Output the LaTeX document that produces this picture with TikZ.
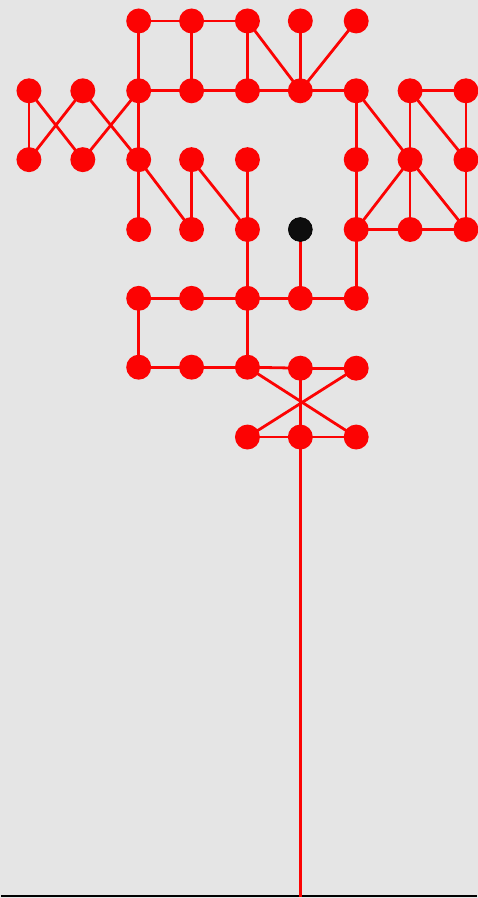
\documentclass[tikz,border=0pt]{standalone}
\pgfdeclarelayer{bg}
\pgfdeclarelayer{edges}
\pgfsetlayers{bg,edges,main}
\definecolor{bgc}{HTML}{E5E5E5}
\definecolor{nodered}{HTML}{FC0303}
\definecolor{nodeblack}{HTML}{0D0D0D}
\begin{document}
\begin{tikzpicture}[x=1pt,y=-1pt,
  dot/.style={circle,fill=nodered,inner sep=0pt,minimum size=25pt},
  blackdot/.style={circle,fill=nodeblack,draw=black,line width=0.6pt,inner sep=0pt,minimum size=24pt},
  edge/.style={draw=nodered,line width=2.8pt}]
\begin{pgfonlayer}{bg}
\fill[bgc] (-1,-1) rectangle (478,899);
\draw[black,line width=2pt] (0,897) -- (477,897);
\end{pgfonlayer}
\useasboundingbox (0,0) rectangle (477,898);
% row 1
\node[dot] (C1) at (138,20) {};
\node[dot] (D1) at (191,20) {};
\node[dot] (E1) at (247,20) {};
\node[dot] (F1) at (300,20) {};
\node[dot] (G1) at (356,20) {};
% row 2
\node[dot] (A2) at (28,90) {};
\node[dot] (B2) at (82,90) {};
\node[dot] (C2) at (138,90) {};
\node[dot] (D2) at (191,90) {};
\node[dot] (E2) at (247,90) {};
\node[dot] (F2) at (300,90) {};
\node[dot] (G2) at (356,90) {};
\node[dot] (H2) at (410,90) {};
\node[dot] (I2) at (466,90) {};
% row 3
\node[dot] (A3) at (28,159) {};
\node[dot] (B3) at (82,159) {};
\node[dot] (C3) at (138,159) {};
\node[dot] (D3) at (191,159) {};
\node[dot] (E3) at (247,159) {};
\node[dot] (G3) at (356,159) {};
\node[dot] (H3) at (410,159) {};
\node[dot] (I3) at (466,159) {};
% row 4
\node[dot] (C4) at (138,229) {};
\node[dot] (D4) at (191,229) {};
\node[dot] (E4) at (247,229) {};
\node[blackdot] (F4) at (300,229) {};
\node[dot] (G4) at (356,229) {};
\node[dot] (H4) at (410,229) {};
\node[dot] (I4) at (466,229) {};
% row 5
\node[dot] (C5) at (138,298) {};
\node[dot] (D5) at (191,298) {};
\node[dot] (E5) at (247,298) {};
\node[dot] (F5) at (300,298) {};
\node[dot] (G5) at (356,298) {};
% row 6
\node[dot] (C6) at (138,367) {};
\node[dot] (D6) at (191,367) {};
\node[dot] (E6) at (247,367) {};
\node[dot] (F6) at (300,368) {};
\node[dot] (G6) at (356,368) {};
% row 7
\node[dot] (E7) at (247,437) {};
\node[dot] (F7) at (300,437) {};
\node[dot] (G7) at (356,437) {};
\coordinate (bot) at (300,898);
\begin{pgfonlayer}{edges}
\foreach \a/\b in {C1/D1,D1/E1,C1/C2,D1/D2,E1/E2,E1/F2,F1/F2,G1/F2,
  C2/D2,D2/E2,E2/F2,F2/G2,H2/I2,
  A2/A3,A2/B3,B2/A3,B2/C3,C2/B3,C2/C3,
  C3/C4,C3/D4,D3/D4,D3/E4,E3/E4,
  G2/G3,G2/H3,H2/H3,H2/I3,I2/I3,
  G3/G4,H3/G4,H3/H4,H3/I4,I3/I4,
  G4/H4,H4/I4,
  E4/E5,F4/F5,G4/G5,
  C5/D5,D5/E5,E5/F5,F5/G5,
  C5/C6,E5/E6,
  C6/D6,D6/E6,E6/F6,F6/G6,
  E6/G7,G6/E7,F6/F7,
  E7/F7,F7/G7}
  \draw[edge] (\a.center) -- (\b.center);
\draw[edge] (F7.center) -- (bot);
\end{pgfonlayer}
\end{tikzpicture}
\end{document}
